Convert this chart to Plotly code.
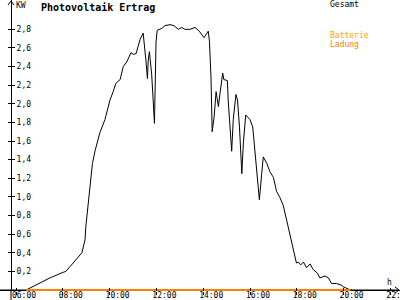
import plotly.graph_objects as go

# ---- data ----
times = ["06:26", "07:27", "08:01", "08:08", "08:49", "08:57", "08:59", "09:05", "09:12", "09:16",
         "09:23", "09:35", "09:48", "10:01", "10:09", "10:16", "10:27", "10:35", "10:44", "10:55",
         "11:01", "11:08", "11:18", "11:26", "11:33", "11:37", "11:39", "11:42", "11:48", "11:52",
         "11:55", "11:59", "12:02", "12:14", "12:22", "12:35", "12:45", "12:56", "13:05", "13:13",
         "13:26", "13:39", "13:50", "14:02", "14:13", "14:16", "14:20", "14:23", "14:28", "14:33",
         "14:39", "14:43", "14:50", "14:53", "15:02", "15:04", "15:09", "15:13", "15:17", "15:24",
         "15:28", "15:33", "15:39", "15:43", "15:49", "16:00", "16:07", "16:13", "16:19", "16:24",
         "16:30", "16:34", "16:43", "16:51", "17:00", "17:08", "17:17", "17:25", "17:34", "17:43",
         "17:51", "17:59", "18:04", "18:10", "18:17", "18:25", "18:34", "18:42", "18:53", "18:59",
         "19:12", "19:21", "19:29", "19:42", "19:55", "19:59", "20:12", "20:21"]
pv_kw = [0.00, 0.13, 0.19, 0.20, 0.40, 0.54, 0.68, 0.93, 1.21, 1.36,
         1.50, 1.69, 1.83, 2.04, 2.13, 2.22, 2.26, 2.40, 2.45, 2.55,
         2.53, 2.54, 2.69, 2.76, 2.47, 2.27, 2.47, 2.56, 2.31, 1.97,
         1.79, 2.66, 2.79, 2.81, 2.84, 2.85, 2.84, 2.80, 2.82, 2.80,
         2.80, 2.82, 2.78, 2.71, 2.78, 2.67, 2.28, 1.70, 1.86, 2.13,
         1.97, 2.11, 2.33, 2.26, 2.25, 2.04, 1.75, 1.49, 1.83, 2.10,
         2.04, 1.75, 1.25, 1.58, 1.88, 1.83, 1.75, 1.47, 1.18, 0.97,
         1.25, 1.43, 1.36, 1.27, 1.21, 1.06, 0.99, 0.91, 0.75, 0.58,
         0.43, 0.29, 0.30, 0.27, 0.30, 0.24, 0.28, 0.22, 0.18, 0.13,
         0.15, 0.13, 0.07, 0.07, 0.05, 0.035, 0.01, 0.00]
batt_times = ["06:26", "20:18"]
batt_kw = [0.0, 0.0]
x_tick_labels = ["06:00", "08:00", "10:00", "12:00", "14:00", "16:00", "18:00", "20:00", "22:00"]
y_tick_values = [0.2, 0.4, 0.6, 0.8, 1.0, 1.2, 1.4, 1.6, 1.8, 2.0, 2.2, 2.4, 2.6, 2.8]


def hours(s):
    h, m = s.split(":")
    return int(h) + int(m) / 60.0


W, H = 400, 300
B = 9
PH = H - B  # plot height in px (plot bottom at y=291, value 0 at y=290)
KPX = 93.1  # px per kW
XR = [5.316, 22.41]
YR = [-1 / KPX, (PH - 1) / KPX]
MONO = "DejaVu Sans Mono"


def px(xp):
    return xp / W


def py(yp):
    return (PH - yp) / PH


xt = [hours(t) for t in x_tick_labels]

fig = go.Figure()
fig.add_trace(go.Scatter(x=[hours(t) for t in times], y=pv_kw, mode="lines",
                         line=dict(color="black", width=1), hoverinfo="skip", showlegend=False))
fig.add_trace(go.Scatter(x=[hours(t) for t in batt_times], y=batt_kw, mode="lines",
                         line=dict(color="#FF8000", width=1.8), hoverinfo="skip", showlegend=False))
fig.add_trace(go.Scatter(x=[], y=[], xaxis="x2", yaxis="y2", showlegend=False))

fig.update_layout(
    width=W, height=H,
    margin=dict(l=0, r=0, t=0, b=B, pad=0),
    paper_bgcolor="white", plot_bgcolor="white",
    separators=",.",
    showlegend=False,
    xaxis=dict(range=XR, showgrid=False, zeroline=False, showline=False,
               tickvals=xt, ticktext=x_tick_labels, ticks="outside", ticklen=3,
               tickcolor="black", tickwidth=1, ticklabelshift=8, ticklabelstandoff=-7,
               ticklabeloverflow="allow",
               tickfont=dict(family=MONO, size=8, color="black"), automargin=False,
               fixedrange=True),
    xaxis2=dict(range=XR, overlaying="x", side="bottom", anchor="y2", showgrid=False,
                zeroline=False, showline=False, tickvals=xt, ticks="inside", ticklen=3,
                tickcolor="black", showticklabels=False, automargin=False),
    yaxis=dict(range=YR, anchor="free", position=11 / W, side="right", showgrid=False,
               zeroline=True, zerolinecolor="black", zerolinewidth=1,
               showline=True, linecolor="black", linewidth=1, tickvals=y_tick_values,
               tickformat=".1f", ticks="outside", ticklen=3, tickcolor="black",
               ticklabelstandoff=0,
               tickfont=dict(family=MONO, size=8, color="black"),
               automargin=False, fixedrange=True),
    yaxis2=dict(range=YR, overlaying="y", anchor="free", position=11 / W, side="right",
                showgrid=False, zeroline=False, showline=False, tickvals=y_tick_values,
                ticks="inside", ticklen=3, tickcolor="black", showticklabels=False,
                automargin=False),
)

# axis extensions and arrow heads
shapes = [
    dict(type="line", xref="paper", yref="paper", x0=px(0), x1=px(399), y0=py(290), y1=py(290),
         line=dict(color="black", width=1), layer="below"),
    dict(type="line", xref="paper", yref="paper", x0=px(11), x1=px(11), y0=py(290), y1=py(300),
         line=dict(color="black", width=1)),
    dict(type="path", xref="paper", yref="paper",
         path=f"M {px(8)},{py(5)} L {px(11)},{py(1)} L {px(14)},{py(5)}",
         line=dict(color="black", width=1)),
    dict(type="path", xref="paper", yref="paper",
         path=f"M {px(395)},{py(287)} L {px(399)},{py(290)} L {px(395)},{py(293)}",
         line=dict(color="black", width=1)),
]
fig.update_layout(shapes=shapes)

ann = [
    dict(text="<b>Photovoltaik Ertrag</b>", x=px(40), y=py(7), size=10, color="black"),
    dict(text="KW", x=px(15), y=py(5), size=8, color="black"),
    dict(text="Gesamt", x=px(329), y=py(4.5), size=8, color="black"),
    dict(text="Batterie", x=px(329), y=py(35.5), size=8, color="#FFA500"),
    dict(text="Ladung", x=px(329), y=py(44), size=8, color="#FF8000"),
    dict(text="h", x=px(386), y=py(282), size=8, color="black"),
]
for a in ann:
    fig.add_annotation(text=a["text"], x=a["x"], y=a["y"], xref="paper", yref="paper",
                       xanchor="left", yanchor="middle", showarrow=False,
                       font=dict(family=MONO, size=a["size"], color=a["color"]),
                       borderpad=0)

fig.write_html("out.html", config={"displayModeBar": False})
